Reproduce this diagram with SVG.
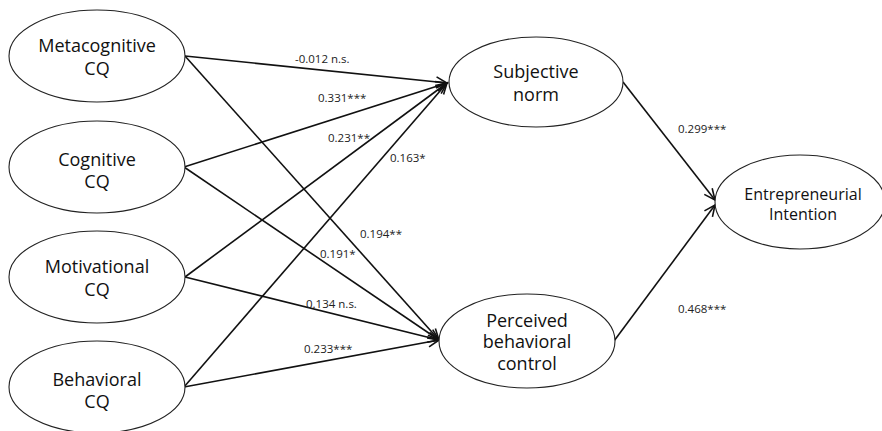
<svg xmlns="http://www.w3.org/2000/svg" width="882" height="431" viewBox="0 0 882 431">
<style>
.node ellipse{fill:#fff;stroke:#222;stroke-width:1.1}
.node text{font-family:"Open Sans","Noto Sans",sans-serif;font-size:18px;fill:#111;text-anchor:middle}
.ei text{font-size:16px}
.conn line{stroke:#111;stroke-width:1.6;marker-end:url(#arr)}
.lbl{font-family:"Open Sans","Noto Sans",sans-serif;font-size:11.5px;fill:#222}
</style>
<defs>
<marker id="arr" markerUnits="userSpaceOnUse" markerWidth="14" markerHeight="12" refX="12" refY="6" orient="auto">
<path d="M1,1 L12,6 L1,11" fill="none" stroke="#111" stroke-width="1.6"/>
</marker>
</defs>
<rect width="882" height="431" fill="#fff"/>
<g id="connectors" class="conn">
<line x1="185" y1="56" x2="447" y2="83"/>
<line x1="185" y1="56" x2="439" y2="340"/>
<line x1="184" y1="167" x2="447" y2="83"/>
<line x1="184" y1="167" x2="439" y2="340"/>
<line x1="185" y1="277" x2="447" y2="83"/>
<line x1="185" y1="277" x2="439" y2="340"/>
<line x1="184" y1="387" x2="447" y2="83"/>
<line x1="184" y1="387" x2="439" y2="340"/>
<line x1="623" y1="82" x2="715" y2="200"/>
<line x1="614" y1="341" x2="715" y2="205"/>
</g>
<g id="labels">
<text class="lbl" x="295" y="63">-0.012 n.s.</text>
<text class="lbl" x="318" y="102">0.331***</text>
<text class="lbl" x="328" y="142">0.231**</text>
<text class="lbl" x="390" y="162">0.163*</text>
<text class="lbl" x="360" y="238">0.194**</text>
<text class="lbl" x="320" y="258">0.191*</text>
<text class="lbl" x="306" y="308">0.134 n.s.</text>
<text class="lbl" x="304" y="353">0.233***</text>
<text class="lbl" x="678" y="133">0.299***</text>
<text class="lbl" x="678" y="313">0.468***</text>
</g>
<g id="metacognitive" class="node">
<ellipse cx="97" cy="56" rx="88" ry="46"/>
<text x="97" y="52">Metacognitive</text>
<text x="97" y="75">CQ</text>
</g>
<g id="cognitive" class="node">
<ellipse cx="97" cy="167" rx="88" ry="46"/>
<text x="97" y="166">Cognitive</text>
<text x="97" y="188">CQ</text>
</g>
<g id="motivational" class="node">
<ellipse cx="97" cy="277" rx="88" ry="46"/>
<text x="97" y="273">Motivational</text>
<text x="97" y="296">CQ</text>
</g>
<g id="behavioral" class="node">
<ellipse cx="97" cy="387" rx="88" ry="46"/>
<text x="97" y="386">Behavioral</text>
<text x="97" y="408">CQ</text>
</g>
<g id="subjective-norm" class="node">
<ellipse cx="536" cy="82" rx="87" ry="45"/>
<text x="536" y="78">Subjective</text>
<text x="536" y="101">norm</text>
</g>
<g id="perceived-behavioral-control" class="node">
<ellipse cx="527" cy="341" rx="88" ry="47"/>
<text x="527" y="327">Perceived</text>
<text x="527" y="348">behavioral</text>
<text x="527" y="370">control</text>
</g>
<g id="entrepreneurial-intention" class="node ei">
<ellipse cx="800" cy="202" rx="85" ry="47"/>
<text x="803" y="200">Entrepreneurial</text>
<text x="803" y="220">Intention</text>
</g>
</svg>
